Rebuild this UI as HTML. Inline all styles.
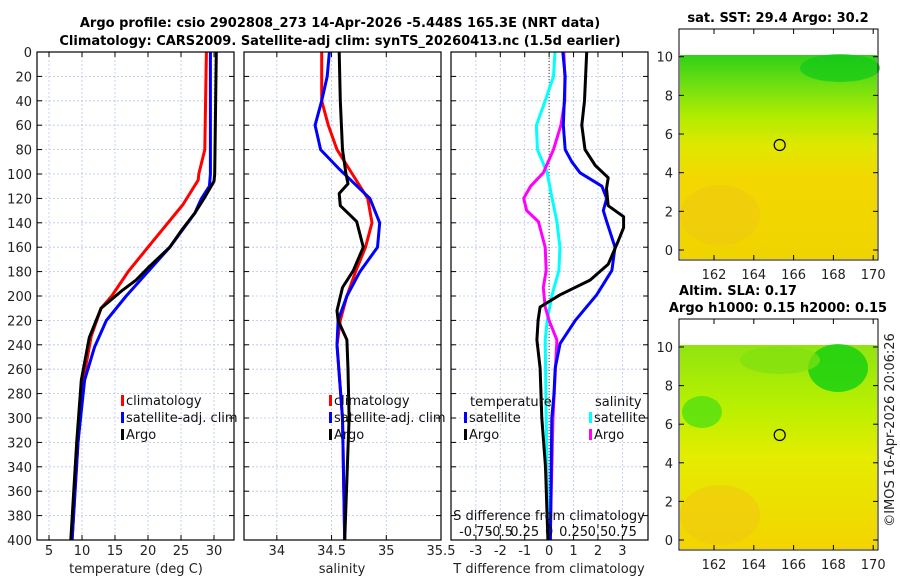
<!DOCTYPE html>
<html><head><meta charset="utf-8"><style>
body{margin:0;background:#fff}
svg{display:block;font-family:"DejaVu Sans","Liberation Sans",sans-serif}
</style></head><body>
<svg id="fig" width="900" height="580" viewBox="0 0 900 580">
<defs>
<linearGradient id="sstg" x1="0" y1="0" x2="0" y2="1">
<stop offset="0" stop-color="#30d018"/><stop offset="0.15" stop-color="#70e010"/><stop offset="0.3" stop-color="#b0ec00"/><stop offset="0.45" stop-color="#e0e800"/><stop offset="0.6" stop-color="#f2d800"/><stop offset="1" stop-color="#f0d400"/>
</linearGradient>
<linearGradient id="slag" x1="0" y1="0" x2="0" y2="1">
<stop offset="0" stop-color="#90e410"/><stop offset="0.3" stop-color="#b8f000"/><stop offset="0.55" stop-color="#e4ec00"/><stop offset="1" stop-color="#f4d400"/>
</linearGradient>
</defs>
<g id="titles">
<text x="340" y="27" text-anchor="middle" font-size="13" font-weight="bold">Argo profile: csio 2902808_273 14-Apr-2026 -5.448S 165.3E (NRT data)</text>
<text x="340" y="45" text-anchor="middle" font-size="13" font-weight="bold">Climatology: CARS2009. Satellite-adj clim: synTS_20260413.nc (1.5d earlier)</text>
<text x="778" y="22" text-anchor="middle" font-size="13" font-weight="bold">sat. SST: 29.4 Argo: 30.2</text>
<text x="738" y="295" text-anchor="middle" font-size="13" font-weight="bold">Altim. SLA: 0.17</text>
<text x="778" y="312" text-anchor="middle" font-size="13" font-weight="bold">Argo h1000: 0.15 h2000: 0.15</text>
<text transform="translate(894,430) rotate(-90)" text-anchor="middle" font-size="13" fill="#222">©IMOS 16-Apr-2026 20:06:26</text>
</g>
<g id="maps">
<rect x="679" y="29" width="199" height="231" fill="#fff"/>
<rect x="680" y="55" width="197" height="204" fill="url(#sstg)"/>
<ellipse cx="720" cy="215" rx="40" ry="30" fill="#f0c810" opacity="0.6"/>
<ellipse cx="840" cy="68" rx="40" ry="14" fill="#10c818" opacity="0.7"/>
<circle cx="779.7" cy="145" r="5.5" fill="none" stroke="#000" stroke-width="1.2"/>
<rect x="679" y="29" width="199" height="231" fill="none" stroke="#000" stroke-width="1"/>
<rect x="679" y="319" width="199" height="231" fill="#fff"/>
<rect x="680" y="345" width="197" height="204" fill="url(#slag)"/>
<ellipse cx="838" cy="368" rx="30" ry="24" fill="#10d010" opacity="0.8"/>
<ellipse cx="780" cy="360" rx="40" ry="14" fill="#80e010" opacity="0.7"/>
<ellipse cx="702" cy="412" rx="20" ry="16" fill="#50e010" opacity="0.8"/>
<ellipse cx="720" cy="515" rx="40" ry="30" fill="#f2c810" opacity="0.6"/>
<circle cx="779.7" cy="435" r="5.5" fill="none" stroke="#000" stroke-width="1.2"/>
<rect x="679" y="319" width="199" height="231" fill="none" stroke="#000" stroke-width="1"/>
</g>
<g id="panels"></g>
</svg>
<script>
// ---- depth axis ----
const depthTicks=[0,20,40,60,80,100,120,140,160,180,200,220,240,260,280,300,320,340,360,380,400];
// ---- panel 1: temperature ----
const tempTicks=[5,10,15,20,25,30];
const climT_depth=[0,80,100,105,125,160,180,200,210,233,269,320,400];
const climT=[28.85,28.6,27.7,27.6,25.3,20.0,17.0,14.5,12.9,11.4,10.2,9.4,8.5];
const satT_depth=[0,100,110,120,132,160,180,200,220,242,269,320,400];
const satT=[29.45,29.45,29.3,28.1,27.1,23.3,20.0,16.7,13.7,11.9,10.4,9.4,8.5];
const argoT_depth=[0,100,106,119,132,146,160,177,187,195,210,234,269,320,400];
const argoT=[30.35,30.1,30.0,28.6,27.1,25.1,23.3,20.0,18.2,16.2,12.9,11.1,9.9,9.2,8.3];
// ---- panel 2: salinity ----
const salTicks=[34,34.5,35,35.5];
const climS_depth=[0,40,60,80,100,120,140,160,180,200,220,240,300,400];
const climS=[34.41,34.41,34.47,34.55,34.69,34.83,34.87,34.81,34.72,34.64,34.58,34.55,34.60,34.62];
const satS_depth=[0,20,40,60,80,95,120,140,160,180,200,220,240,300,400];
const satS=[34.48,34.46,34.41,34.35,34.40,34.56,34.85,34.94,34.92,34.76,34.64,34.56,34.55,34.60,34.62];
const argoS_depth=[0,40,80,99,108,116,126,139,160,179,193,212,220,236,260,300,400];
const argoS=[34.57,34.58,34.60,34.63,34.65,34.57,34.58,34.73,34.79,34.70,34.60,34.55,34.56,34.64,34.65,34.66,34.62];
// ---- panel 3: differences ----
const dTTicks=[-3,-2,-1,0,1,2,3];
const dSTickLabels=["-0.75","-0.5","0.25","0","0.25","0.5","0.75"];
const dSTicks=[-0.75,-0.5,-0.25,0,0.25,0.5,0.75];
const satDT_depth=[0,20,40,60,80,90,99,110,120,130,139,160,179,199,220,239,259,280,300,400];
const satDT=[0.56,0.66,0.62,0.58,0.66,0.93,1.27,2.16,2.36,2.22,2.36,2.7,2.57,1.95,1.07,0.45,0.25,0.2,0.11,0.05];
const argoDT_depth=[0,40,60,80,93,103,112,126,135,144,155,174,187,199,209,220,236,259,300,340,400];
const argoDT=[1.54,1.45,1.34,1.47,1.89,2.42,2.35,2.42,3.05,3.05,2.83,2.42,1.68,0.45,-0.37,-0.45,-0.5,-0.37,-0.3,-0.15,-0.05];
const satDS_depth=[0,20,40,60,80,99,120,139,160,179,199,220,236,300,400];
const satDS=[0.06,0.045,-0.04,-0.13,-0.12,-0.02,0.03,0.08,0.11,0.1,0.03,-0.02,-0.04,-0.03,-0.01];
const argoDS_depth=[0,20,40,60,80,99,110,120,130,139,160,179,193,209,220,236,300,400];
const argoDS=[0.15,0.16,0.16,0.12,0.045,-0.06,-0.19,-0.26,-0.23,-0.11,-0.04,-0.03,-0.06,-0.04,0.0,0.08,0.04,0.01];
// ---- maps ----
const lonTicks=[162,164,166,168,170];
const latTicks=[0,2,4,6,8,10];

const NS="http://www.w3.org/2000/svg";
const root=document.getElementById('panels');
function el(tag,attrs,parent){const e=document.createElementNS(NS,tag);for(const k in attrs)e.setAttribute(k,attrs[k]);(parent||root).appendChild(e);return e;}
const Y0=52,Y1=540;
const yD=d=>Y0+(Y1-Y0)*d/400;

function panel(name,x0,x1,lo,hi,ticks,labels,showY){
  const xs=v=>x0+(x1-x0)*(v-lo)/(hi-lo);
  const g=el('g',{});
  
  
  depthTicks.forEach(d=>{
    const l=el('line',{x1:x0,x2:x1,y1:yD(d),y2:yD(d),stroke:'#b8c4ec','stroke-width':0.8,'stroke-dasharray':'2,2'},g);
    
    
    el('line',{x1:x0,x2:x0+5,y1:yD(d),y2:yD(d),stroke:'#000'},g);
    el('line',{x1:x1-5,x2:x1,y1:yD(d),y2:yD(d),stroke:'#000'},g);
    if(showY){const t=el('text',{x:x0-5,y:yD(d)+5,'text-anchor':'end','font-size':13,fill:'#222'},g);t.textContent=d;
      
      }
  });
  ticks.forEach((v,i)=>{
    const x=xs(v);
    if(x>x0+1&&x<x1-1){
      const l=el('line',{x1:x,x2:x,y1:Y0,y2:Y1,stroke:'#b8c4ec','stroke-width':0.8,'stroke-dasharray':'2,2'},g);
      
      
    }
    el('line',{x1:x,x2:x,y1:Y1,y2:Y1-5,stroke:'#000'},g);
    el('line',{x1:x,x2:x,y1:Y0,y2:Y0+5,stroke:'#000'},g);
    const t=el('text',{x:x,y:555,'text-anchor':'middle','font-size':13,fill:'#222'},g);t.textContent=labels[i];
    
    
  });
  return {g,xs,x0,x1};
}
function line(p,depth,vals,color,name,xsFn){
  const xs=xsFn||p.xs;
  const pts=vals.map((v,i)=>xs(v).toFixed(1)+','+yD(depth[i]).toFixed(1)).join(' ');
  const pl=el('polyline',{points:pts,fill:'none',stroke:color,'stroke-width':3,'stroke-linejoin':'round'},p.g);
  
  
}
function frame(p){el('rect',{x:p.x0,y:Y0,width:p.x1-p.x0,height:Y1-Y0,fill:'none',stroke:'#000','stroke-width':1.2},p.g);}
function legItem(p,x,y,color,label,name){
  el('rect',{x:x,y:y-10,width:3,height:11,fill:color},p.g);
  const t=el('text',{x:x+5,y:y,'font-size':13,fill:'#111'},p.g);t.textContent=label;
  
  
}
function axLabel(x,txt,name){const t=el('text',{x:x,y:573,'text-anchor':'middle','font-size':13,fill:'#222'});t.textContent=txt;
  
  }

// panel 1
const p1=panel('temperature-panel',37,234,3.18,33.03,tempTicks,tempTicks.map(String),true);
line(p1,climT_depth,climT,'#ff0000','climatology-temp-line');
line(p1,satT_depth,satT,'#0000ff','satellite-temp-line');
line(p1,argoT_depth,argoT,'#000000','argo-temp-line');
frame(p1);
legItem(p1,121,405,'#ff0000','climatology','legend-climatology');
legItem(p1,121,422,'#0000ff','satellite-adj. clim','legend-satellite');
legItem(p1,121,439,'#000000','Argo','legend-argo');
axLabel(136,'temperature (deg C)','x-axis-title-temperature');

// panel 2
const p2=panel('salinity-panel',244,441,33.70,35.5,salTicks,salTicks.map(String),false);
line(p2,climS_depth,climS,'#ff0000','climatology-salinity-line');
line(p2,satS_depth,satS,'#0000ff','satellite-salinity-line');
line(p2,argoS_depth,argoS,'#000000','argo-salinity-line');
frame(p2);
legItem(p2,329,405,'#ff0000','climatology','legend-climatology-2');
legItem(p2,329,422,'#0000ff','satellite-adj. clim','legend-satellite-2');
legItem(p2,329,439,'#000000','Argo','legend-argo-2');
axLabel(342,'salinity','x-axis-title-salinity');

// panel 3
const p3=panel('difference-panel',451,648,-4.02,4.05,dTTicks,dTTicks.map(String),false);
const xsS=v=>p3.xs(v*4);
el('line',{x1:p3.xs(0),x2:p3.xs(0),y1:Y0,y2:Y1,stroke:'#444','stroke-width':1,'stroke-dasharray':'1,2'},p3.g);
line(p3,satDS_depth,satDS,'#00ffff','satellite-salinity-diff-line',xsS);
line(p3,argoDS_depth,argoDS,'#ff00ff','argo-salinity-diff-line',xsS);
line(p3,satDT_depth,satDT,'#0000ff','satellite-temp-diff-line');
line(p3,argoDT_depth,argoDT,'#000000','argo-temp-diff-line');
frame(p3);
{const t=el('text',{x:470,y:406,'font-size':13,fill:'#111'},p3.g);t.textContent='temperature';
 
 
 const s=el('text',{x:595,y:406,'font-size':13,fill:'#111'},p3.g);s.textContent='salinity';
 
 }
legItem(p3,464,422,'#0000ff','satellite','legend-temp-satellite');
legItem(p3,464,439,'#000000','Argo','legend-temp-argo');
legItem(p3,589,422,'#00ffff','satellite','legend-sal-satellite');
legItem(p3,589,439,'#ff00ff','Argo','legend-sal-argo');
{const t=el('text',{x:549,y:520,'text-anchor':'middle','font-size':13,fill:'#111'},p3.g);t.textContent='S difference from climatology';
 
 
 dSTicks.forEach((v,i)=>{const x=xsS(v);
  el('line',{x1:x,x2:x,y1:528,y2:524,stroke:'#000'},p3.g);
  const l=el('text',{x:x,y:536,'text-anchor':'middle','font-size':13,fill:'#111'},p3.g);l.textContent=dSTickLabels[i];
  
  });}
axLabel(549,'T difference from climatology','x-axis-title-tdiff');

// map ticks
function mapAxes(top,lat10y,lat0y,nameP){
  const lx=v=>714+(v-162)*19.9;
  const ly=v=>lat0y+(lat10y-lat0y)*v/10;
  lonTicks.forEach(v=>{
    el('line',{x1:lx(v),x2:lx(v),y1:top+231,y2:top+226,stroke:'#000'});
    el('line',{x1:lx(v),x2:lx(v),y1:top,y2:top+5,stroke:'#000'});
    const t=el('text',{x:lx(v),y:top+250,'text-anchor':'middle','font-size':13,fill:'#222'});t.textContent=v;
    
    
  });
  latTicks.forEach(v=>{
    el('line',{x1:679,x2:684,y1:ly(v),y2:ly(v),stroke:'#000'});
    el('line',{x1:873,x2:878,y1:ly(v),y2:ly(v),stroke:'#000'});
    const t=el('text',{x:673,y:ly(v)+5,'text-anchor':'end','font-size':13,fill:'#222'});t.textContent=v;
    
    
  });
}
mapAxes(29,56.7,250,'sst-map');
mapAxes(319,347,540,'sla-map');
</script>
</body></html>
